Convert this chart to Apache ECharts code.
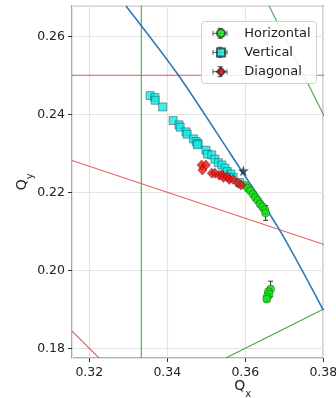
<!DOCTYPE html>
<html>
<head>
<meta charset="utf-8">
<script src="https://cdn.jsdelivr.net/npm/echarts@6/dist/echarts.min.js"></script>
<style>
html,body{margin:0;padding:0;background:#fff;}
#chart{width:336px;height:398px;}
</style>
</head>
<body>
<div id="chart"></div>
<script>
// ---- data ----
const seriesNames = ['Horizontal', 'Vertical', 'Diagonal'];

const hQx = [0.3599,0.3607,0.3613,0.3620,0.3626,0.3632,0.3638,0.3644,0.3650,0.3652, 0.3665,0.3659,0.3661,0.3656,0.3655];
const hQy = [0.2218,0.2210,0.2204,0.2195,0.2186,0.2179,0.2170,0.2163,0.2155,0.2147, 0.1952,0.1945,0.1939,0.1932,0.1926];
const hErrX = [0.0003,0.0003,0.0003,0.0003,0.0003,0.0003,0.0003,0.0003,0.0004,0.0004, 0.0004,0.0003,0.0003,0.0003,0.0003];
const hErrY = [0.0004,0.0004,0.0005,0.0005,0.0006,0.0006,0.0007,0.0008,0.0010,0.0019, 0.0020,0.0008,0.0010,0.0008,0.0006];

const vQx = [0.3356,0.3368,0.3369,0.3388,0.3415,0.3430,0.3433,0.3448,0.3451,0.3467,0.3474,0.3479,0.3477,0.3499,0.3503,0.3514,0.3522,0.3531,0.3540,0.3548,0.3554,0.3563,0.3569,0.3585];
const vQy = [0.2448,0.2443,0.2436,0.2419,0.2384,0.2373,0.2367,0.2355,0.2349,0.2337,0.2330,0.2325,0.2322,0.2308,0.2298,0.2296,0.2285,0.2276,0.2270,0.2262,0.2253,0.2247,0.2238,0.2225];

const dQx = [0.3488,0.3499,0.3490,0.3514,0.3522,0.3533,0.3541,0.3544,0.3554,0.3559,0.3569,0.3582,0.3589];
const dQy = [0.2270,0.2270,0.2257,0.2249,0.2249,0.2244,0.2244,0.2238,0.2240,0.2233,0.2233,0.2223,0.2219];

const starPt = [0.3595, 0.2255];

// blue working line
const blueQx = [0.3294,0.3428,0.3561,0.3685,0.3800];
const blueQy = [0.2678,0.2501,0.2300,0.2108,0.1898];

// resonance lines [x1, y1, x2, y2] (end points beyond the view, clipped)
const redLines = [
  [0.30, 0.25, 0.40, 0.25],          // Qy = 1/4
  [0.30, 0.23333, 0.40, 0.20],       // Qx + 3Qy = 1
  [0.30, 0.20, 0.33, 0.17]           // Qx + Qy = 1/2
];
const greenLines = [
  [0.33333, 0.16, 0.33333, 0.28],    // Qx = 1/3
  [0.33, 0.165, 0.40, 0.20],         // Qx - 2Qy = 0
  [0.36, 0.28, 0.40, 0.20]           // 2Qx + Qy = 1
];

const xRange = [0.31556, 0.38];
const yRange = [0.17751, 0.26785];

// ---- build ----
const zip = (a, b) => a.map((v, i) => [v, b[i]]);
const FONT = 'DejaVu Sans';
const TXT = '#222';

const chart = echarts.init(document.getElementById('chart'), null, {renderer: 'canvas'});

function segSeries(lines, color) {
  return {
    type: 'custom', silent: true, clip: true, z: 1,
    data: lines,
    encode: {x: [0, 2], y: [1, 3]},
    renderItem: function (params, api) {
      const p1 = api.coord([api.value(0), api.value(1)]);
      const p2 = api.coord([api.value(2), api.value(3)]);
      return {type: 'line', shape: {x1: p1[0], y1: p1[1], x2: p2[0], y2: p2[1]},
        style: {stroke: color, lineWidth: 1.1, fill: null}};
    }
  };
}

const series = [];
series.push(segSeries(redLines, '#ec5050'));
series.push(segSeries(greenLines, '#44aa44'));
series.push({
  type: 'line', data: zip(blueQx, blueQy), symbol: 'none', smooth: 0.3, silent: true, clip: true, z: 1,
  color: '#2b7bba',
  lineStyle: {color: '#2b7bba', width: 1.6}
});
// error bars
series.push({
  type: 'custom', silent: true, z: 2, clip: true,
  data: hQx.map((x, i) => [x, hQy[i], hErrX[i], hErrY[i]]),
  encode: {x: 0, y: 1},
  renderItem: function (params, api) {
    const x = api.value(0), y = api.value(1), ex = api.value(2), ey = api.value(3);
    const c = api.coord([x, y]);
    const l = api.coord([x - ex, y]), r = api.coord([x + ex, y]);
    const t = api.coord([x, y + ey]), b = api.coord([x, y - ey]);
    const cap = 2.5;
    const st = {stroke: '#333', lineWidth: 1};
    return {type: 'group', children: [
      {type: 'line', shape: {x1: l[0], y1: c[1], x2: r[0], y2: c[1]}, style: st},
      {type: 'line', shape: {x1: c[0], y1: t[1], x2: c[0], y2: b[1]}, style: st},
      {type: 'line', shape: {x1: c[0] - cap, y1: t[1], x2: c[0] + cap, y2: t[1]}, style: st},
      {type: 'line', shape: {x1: c[0] - cap, y1: b[1], x2: c[0] + cap, y2: b[1]}, style: st},
      {type: 'line', shape: {x1: l[0], y1: c[1] - cap, x2: l[0], y2: c[1] + cap}, style: st},
      {type: 'line', shape: {x1: r[0], y1: c[1] - cap, x2: r[0], y2: c[1] + cap}, style: st}
    ]};
  }
});
series.push({
  name: seriesNames[0], type: 'scatter', data: zip(hQx, hQy), symbol: 'circle', symbolSize: 8, z: 3,
  itemStyle: {color: '#11ee11', borderColor: '#1a4a1a', borderWidth: 0.6}
});
series.push({
  name: seriesNames[1], type: 'scatter', data: zip(vQx, vQy), symbol: 'rect', symbolSize: 8, z: 3,
  itemStyle: {color: '#11e8e8', borderColor: '#1a4040', borderWidth: 0.6}
});
series.push({
  name: seriesNames[2], type: 'scatter', data: zip(dQx, dQy), symbol: 'diamond', symbolSize: [9, 10], z: 3,
  itemStyle: {color: '#ee1111', borderColor: '#4a1a1a', borderWidth: 0.6}
});
series.push({
  type: 'scatter', data: [starPt], silent: true, z: 4,
  symbol: 'path://M50,0 L61,35 L98,35 L68,57 L79,91 L50,70 L21,91 L32,57 L2,35 L39,35 Z',
  symbolSize: 11, itemStyle: {color: '#1d2b45'}
});

// legend decoration (box + error-bar crosses)
const legRows = [33.3, 52.3, 71.7];
const legCx = 220;
const graphics = [{
  type: 'rect', z: 10, shape: {x: 201.5, y: 21.5, width: 115, height: 62, r: 3},
  style: {fill: 'rgba(255,255,255,0.85)', stroke: '#d0d0d0', lineWidth: 1}
}];
legRows.forEach(ry => {
  const st = {stroke: '#555', lineWidth: 1};
  graphics.push({type: 'line', z: 11, shape: {x1: legCx - 7, y1: ry, x2: legCx + 7, y2: ry}, style: st});
  graphics.push({type: 'line', z: 11, shape: {x1: legCx, y1: ry - 5, x2: legCx, y2: ry + 5}, style: st});
  graphics.push({type: 'line', z: 11, shape: {x1: legCx - 7, y1: ry - 2.5, x2: legCx - 7, y2: ry + 2.5}, style: st});
  graphics.push({type: 'line', z: 11, shape: {x1: legCx + 7, y1: ry - 2.5, x2: legCx + 7, y2: ry + 2.5}, style: st});
  graphics.push({type: 'line', z: 11, shape: {x1: legCx - 2.5, y1: ry - 5, x2: legCx + 2.5, y2: ry - 5}, style: st});
  graphics.push({type: 'line', z: 11, shape: {x1: legCx - 2.5, y1: ry + 5, x2: legCx + 2.5, y2: ry + 5}, style: st});
});

const subRich = {
  q: {fontFamily: FONT, fontSize: 14, color: TXT, lineHeight: 20, verticalAlign: 'top'},
  s: {fontFamily: FONT, fontSize: 10, color: TXT, lineHeight: 10, verticalAlign: 'bottom'}
};

const option = {
  animation: false,
  backgroundColor: '#fff',
  grid: {left: 72, right: 12.7, top: 5.7, bottom: 40, show: true, borderColor: '#666', borderWidth: 1.2,
    backgroundColor: 'transparent', containLabel: false, outerBoundsMode: 'none'},
  xAxis: {
    type: 'value', min: xRange[0], max: xRange[1], minInterval: 0.02, maxInterval: 0.02,
    name: '{q|Q}{s|x}', nameLocation: 'middle', nameGap: 21, nameMoveOverlap: false,
    nameTextStyle: {rich: subRich, padding: [0, 0, 0, 90]},
    axisLine: {show: false},
    axisTick: {show: true, length: 4, lineStyle: {color: '#333'}},
    axisLabel: {fontFamily: FONT, fontSize: 12.5, color: TXT, margin: 8, showMinLabel: false, showMaxLabel: true,
      formatter: v => v.toFixed(2)},
    splitLine: {show: true, lineStyle: {color: '#e3e3e3', width: 1.2}}
  },
  yAxis: {
    type: 'value', min: yRange[0], max: yRange[1], minInterval: 0.02, maxInterval: 0.02,
    name: '{q|Q}{s|y}', nameLocation: 'middle', nameGap: 37, nameMoveOverlap: false,
    nameTextStyle: {rich: subRich},
    axisLine: {show: false},
    axisTick: {show: true, length: 4, lineStyle: {color: '#333'}},
    axisLabel: {fontFamily: FONT, fontSize: 12.5, color: TXT, margin: 7, showMinLabel: false, showMaxLabel: false,
      formatter: v => v.toFixed(2)},
    splitLine: {show: true, lineStyle: {color: '#e3e3e3', width: 1.2}}
  },
  legend: {
    data: seriesNames, orient: 'vertical', left: 216, top: 26.3, padding: 0,
    itemWidth: 8, itemHeight: 8, itemGap: 5.2, z: 12,
    textStyle: {fontFamily: FONT, fontSize: 13, color: TXT, lineHeight: 14, padding: [0, 0, 0, 14.3]},
    selectedMode: false
  },
  graphic: graphics,
  series: series
};
chart.setOption(option);
</script>
</body>
</html>
